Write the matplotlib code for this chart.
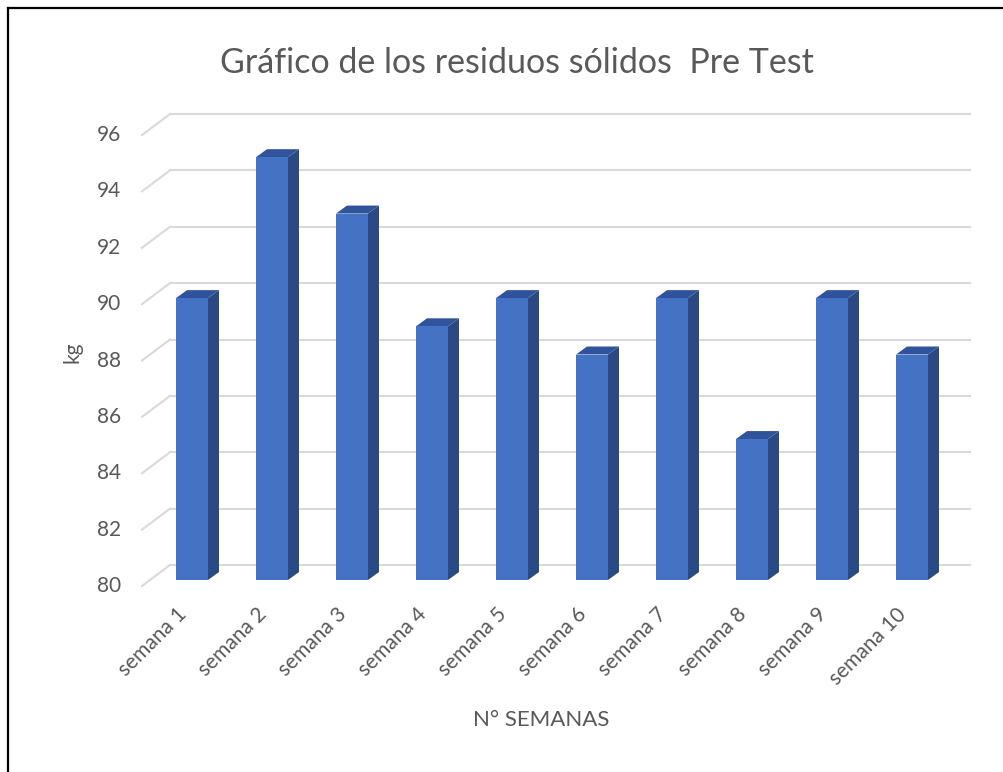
import numpy as np
import matplotlib
matplotlib.use("Agg")
import matplotlib.pyplot as plt
from matplotlib.patches import Polygon
from matplotlib.lines import Line2D

# Datos
semanas = ['semana 1', 'semana 2', 'semana 3', 'semana 4', 'semana 5',
           'semana 6', 'semana 7', 'semana 8', 'semana 9', 'semana 10']
kg = np.array([90, 95, 93, 89, 90, 88, 90, 85, 90, 88])
y_ticks = np.arange(80, 97, 2)

plt.rcParams['font.family'] = ['Lato', 'DejaVu Sans']
gris = '#595959'

fig = plt.figure(figsize=(10.04, 7.72), dpi=100)
# pared del fondo: x 170..970 px, y 114..565 px
ax = fig.add_axes([170 / 1004, (772 - 565) / 772, 800 / 1004, 451 / 772])
ax.set_xlim(0, 10)
ax.set_ylim(80, 96)
ax.axis('off')

# efecto 3D (en unidades de datos)
px_x = 10 / 800
px_y = 16 / 451
piso_dx, piso_dy = -28 * px_x, -21 * px_y   # plano frontal
d = 15 * px_y                               # cara frontal de la barra
prof_x, prof_y = 11 * px_x, 8 * px_y         # profundidad de la barra
ancho = 0.4

# rejilla
for v in y_ticks:
    ax.plot([0, 10], [v, v], color='#d9d9d9', lw=1.5, zorder=1, clip_on=False)
    ax.plot([0, piso_dx], [v, v + piso_dy], color='#d9d9d9', lw=1.5, zorder=1, clip_on=False)
    ax.text(piso_dx - 21 * px_x, v + piso_dy, str(v), ha='right', va='center',
            fontsize=15, color=gris)

# barras
x = np.arange(len(semanas)) + 0.075 + ancho / 2
ax.bar(x, kg - 80, bottom=80 - d, width=ancho, color='#4472C4', zorder=3, clip_on=False)
for xi, v in zip(x, kg):
    r = xi + ancho / 2
    l = xi - ancho / 2
    lado = Polygon([(r, 80 - d), (r, v - d), (r + prof_x, v - d + prof_y),
                    (r + prof_x, 80 - d + prof_y)], closed=True,
                   facecolor='#2B4A84', edgecolor='none', zorder=2, clip_on=False)
    tapa = Polygon([(l, v - d), (r, v - d), (r + prof_x, v - d + prof_y),
                    (l + prof_x, v - d + prof_y)], closed=True,
                   facecolor='#30549C', edgecolor='none', zorder=2, clip_on=False)
    ax.add_patch(lado)
    ax.add_patch(tapa)

# etiquetas del eje x
for xi, s in zip(x, semanas):
    ax.text(xi - 0.02, 80 - 39 * px_y, s, rotation=45, ha='right', va='top',
            fontsize=15, color=gris)

fig.text(517 / 1004, 1 - 63 / 772, 'Gráfico de los residuos sólidos  Pre Test',
         ha='center', va='center', fontsize=24.5, color=gris)
fig.text(541 / 1004, 1 - 720 / 772, 'N° SEMANAS', ha='center', va='center',
         fontsize=16, color=gris)
fig.text(72 / 1004, 1 - 352 / 772, 'kg', ha='center', va='center', rotation=90,
         fontsize=15, color=gris)

# borde
fig.add_artist(Line2D([8.5 / 1004, 1], [1 - 7.5 / 772] * 2, color='black', lw=1.6))
fig.add_artist(Line2D([8.5 / 1004] * 2, [0, 1 - 7.5 / 772], color='black', lw=1.6))

fig.savefig('out.png', dpi=100)
